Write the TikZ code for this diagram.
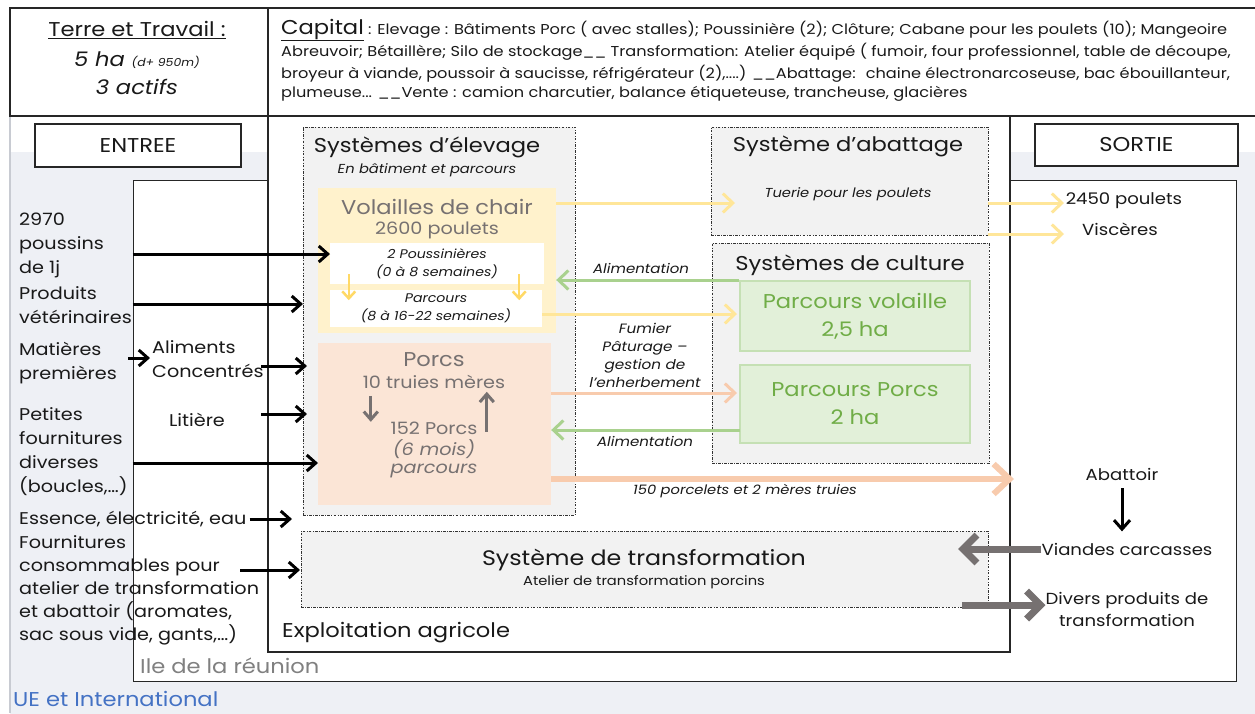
\documentclass[tikz,border=0pt]{standalone}
\usepackage{fontspec}
\setmainfont{Poppins}[FakeStretch=1.13]
\usetikzlibrary{arrows.meta,fit}

\definecolor{uebg}{HTML}{EEF0F5}
\definecolor{uedge}{HTML}{C8CBD2}
\definecolor{sysgrey}{HTML}{F2F2F2}
\definecolor{volfill}{HTML}{FFF2CC}
\definecolor{volarrow}{HTML}{FFE699}
\definecolor{voldark}{HTML}{FFD966}
\definecolor{porcfill}{HTML}{FBE5D6}
\definecolor{porcarrow}{HTML}{F8CBAD}
\definecolor{grnfill}{HTML}{E2F0D9}
\definecolor{grnline}{HTML}{C5E0B4}
\definecolor{grntext}{HTML}{70AD47}
\definecolor{grnarrow}{HTML}{A9D18E}
\definecolor{darkgrey}{HTML}{767171}
\definecolor{uetext}{HTML}{4472C4}

\begin{document}
\begin{tikzpicture}[x=1pt,y=-1pt]
            \tikzset{frame/.style = {draw=black!85, line width=1.3pt, inner sep=0pt}}
            \tikzset{sysbox/.style = {draw=black!80, fill=sysgrey, line width=0.8pt, dash pattern=on 2.5pt off 1.5pt on 0.6pt off 1.5pt, inner sep=0pt}}
            \tikzset{volbox/.style = {fill=volfill, inner sep=0pt}}
            \tikzset{porcbox/.style = {fill=porcfill, inner sep=0pt}}
            \tikzset{whitebox/.style = {fill=white, inner sep=0pt}}
            \tikzset{grnbox/.style = {fill=grnfill, draw=grnline, line width=2pt, inner sep=0pt}}
            \tikzset{txt/.style = {inner sep=0pt, text=black!90}}
            \tikzset{big/.style = {txt, font=\fontsize{20}{24}\selectfont}}
            \tikzset{mid/.style = {txt, font=\fontsize{17}{24}\selectfont}}
            \tikzset{sortietxt/.style = {txt, font=\fontsize{16}{22}\selectfont}}
            \tikzset{lbl/.style = {txt, font=\fontsize{13}{18}\selectfont\itshape}}
            \tikzset{inflow/.style = {draw=black, line width=3pt, -{Straight Barb[length=9pt,width=16pt]}}}
            \tikzset{yflow/.style = {draw=volarrow, line width=3pt, -{Straight Barb[length=10pt,width=19pt]}}}
            \tikzset{gflow/.style = {draw=grnarrow, line width=3pt, -{Straight Barb[length=10pt,width=19pt]}}}
            \tikzset{pflow/.style = {draw=porcarrow, line width=3pt, -{Straight Barb[length=10pt,width=19pt]}}}
            \tikzset{gyflow/.style = {draw=darkgrey, line width=7pt, -{Straight Barb[length=14pt,width=28pt]}}}
            \useasboundingbox (0,0) rectangle (1255,713);
            % zones
            \fill[uebg] (10,152) rectangle (1262,720);
            \draw[uedge, line width=1.5pt] (10,116) -- (10,713);
            \node[frame, fit={(10,8) (268,116)}] (terre) {};
            \node[frame, fit={(268,8) (1262,116)}] (capital) {};
            \node[frame, fill=white, line width=1pt, fit={(133,180) (1236,681)}] (ile) {};
            \node[frame, fill=white, fit={(268,116) (1010,652)}] (ferme) {};
            \node[frame, fill=white, fit={(35,124) (241,167)}] (entree) {};
            \node[frame, fill=white, fit={(1035,124) (1238,166)}] (sortie) {};
            % systemes
            \node[sysbox, fit={(303,127) (575,515)}] (elevage) {};
            \node[volbox, fit={(318,188) (556,333)}] (volailles) {};
            \node[whitebox, fit={(330,243) (544,284)}] (poussin) {};
            \node[whitebox, fit={(330,290) (542,327)}] (parcours) {};
            \node[porcbox, fit={(318,343) (551,505)}] (porcs) {};
            \node[sysbox, fit={(711,127) (988,235)}] (abattage) {};
            \node[sysbox, fit={(712,243) (989,463)}] (culture) {};
            \node[grnbox, fit={(740,281) (970,351)}] (pvol) {};
            \node[grnbox, fit={(740,365) (970,443)}] (pporc) {};
            \node[sysbox, fit={(301,531) (988,607)}] (transfo) {};
            % header texts
            \node[big] at (137,30) {\underline{Terre et Travail :}};
            \node[big, font=\fontsize{20}{24}\selectfont\itshape] at (137,60) {5 ha {\fontsize{11}{13}\selectfont (d+ 950m)}};
            \node[big, font=\fontsize{20}{24}\selectfont\itshape] at (137,87) {3 actifs};
            \node[txt, anchor=base west, font=\fontsize{14.3}{16}\selectfont] at (281,34) {{\fontsize{20}{24}\selectfont\underline{Capital}} : Elevage : Bâtiments Porc ( avec stalles); Poussinière (2); Clôture; Cabane pour les poulets (10); Mangeoire};
            \node[txt, anchor=base west, font=\fontsize{14.3}{16}\selectfont] at (281,56) {Abreuvoir; Bétaillère; Silo de stockage\_\_ Transformation: Atelier équipé ( fumoir, four professionnel, table de découpe,};
            \node[txt, anchor=base west, font=\fontsize{14.3}{16}\selectfont] at (281,78) {broyeur à viande, poussoir à saucisse, réfrigérateur (2),....) \_\_Abattage:~ chaine électronarcoseuse, bac ébouillanteur,};
            \node[txt, anchor=base west, font=\fontsize{14.3}{16}\selectfont] at (281,97) {plumeuse... \_\_Vente : camion charcutier, balance étiqueteuse, trancheuse, glacières};
            \node[big] at (entree) {ENTREE};
            \node[big] at (sortie) {SORTIE};
            % systemes texts
            \node[big] at (427,147) {Systèmes d’élevage};
            \node[lbl] at (427,170) {En bâtiment et parcours};
            \node[big, text=darkgrey] at (437,207) {Volailles de chair};
            \node[mid, text=darkgrey] at (437,230) {2600 poulets};
            \node[lbl, align=center, font=\fontsize{12.5}{18}\selectfont\itshape] at (poussin) {2 Poussinières\\(0 à 8 semaines)};
            \node[lbl, align=center, font=\fontsize{12.5}{18}\selectfont\itshape] at (parcours) {Parcours\\(8 à 16-22 semaines)};
            \node[big, text=darkgrey] at (434,360) {Porcs};
            \node[mid, text=darkgrey] at (434,382) {10 truies mères};
            \node[mid, text=darkgrey] at (434,428) {152 Porcs};
            \node[mid, text=darkgrey, font=\fontsize{17}{24}\selectfont\itshape] at (434,449) {(6 mois)};
            \node[mid, text=darkgrey, font=\fontsize{17}{24}\selectfont\itshape] at (434,471) {parcours};
            \node[big] at (848,146) {Système d'abattage};
            \node[lbl] at (848,194) {Tuerie pour les poulets};
            \node[big] at (850,265) {Systèmes de culture};
            \node[big, text=grntext, align=center, font=\fontsize{20}{28}\selectfont] at (pvol) {Parcours volaille\\2,5 ha};
            \node[big, text=grntext, align=center, font=\fontsize{20}{28}\selectfont] at (pporc) {Parcours Porcs\\2 ha};
            \node[big, font=\fontsize{21}{24}\selectfont] at (644,560) {Système de transformation};
            \node[lbl, font=\fontsize{13}{16}\selectfont] at (644,582) {Atelier de transformation porcins};
            \node[lbl, font=\fontsize{13.3}{16}\selectfont\itshape] at (641,268) {Alimentation};
            \node[lbl, font=\fontsize{13.3}{16}\selectfont\itshape] at (645,441) {Alimentation};
            \node[lbl, align=center, font=\fontsize{13.5}{18}\selectfont\itshape] at (645,355) {Fumier\\Pâturage –\\gestion de\\l’enherbement};
            \node[lbl] at (745,491) {150 porcelets et 2 mères truies};
            \node[big, anchor=west] at (282,633) {Exploitation agricole};
            \node[big, anchor=west, text=black!50] at (140,666) {Ile de la réunion};
            \node[big, anchor=west, text=uetext] at (13,699) {UE et International};
            % entrees
            \node[mid, anchor=north west, align=left] at (19,213) {2970\\poussins\\de 1j};
            \node[mid, anchor=north west, align=left] at (19,286) {Produits\\vétérinaires};
            \node[mid, anchor=north west, align=left] (matieres) at (19,342) {Matières\\premières};
            \node[mid, anchor=north west, align=left] (aliments) at (152,340) {Aliments\\Concentrés};
            \node[mid] (litiere) at (197,420) {Litière};
            \node[mid, anchor=north west, align=left] at (19,407) {Petites\\fournitures\\diverses\\(boucles,…)};
            \node[mid, anchor=west] (essence) at (19,519) {Essence, électricité, eau};
            \node[mid, anchor=north west, align=left, font=\fontsize{17}{23}\selectfont] at (19,535) {Fournitures\\consommables pour\\atelier de transformation\\et abattoir (aromates,\\sac sous vide, gants,…)};
            % sorties
            \node[sortietxt] (poulets) at (1124,201) {2450 poulets};
            \node[sortietxt] (visceres) at (1120,229) {Viscères};
            \node[sortietxt] (abattoir) at (1122,474) {Abattoir};
            \node[sortietxt] (viandes) at (1127,549) {Viandes carcasses};
            \node[sortietxt, align=center] (divers) at (1127,609) {Divers produits de\\transformation};
            % coordinates
            \coordinate (tuerie) at (735,203);
            \coordinate (sortie1) at (1064,203);
            \coordinate (sortie2) at (1064,234);
            \coordinate (pv_in) at (737,314);
            \coordinate (pp_in) at (737,393);
            \coordinate (pp_out) at (740,430);
            \coordinate (vers_abattoir) at (1014,479);
            \coordinate (in_poussin) at (330,254);
            \coordinate (in_veto) at (303,304);
            \coordinate (in_mp) at (150,358);
            \coordinate (in_alim) at (307,366);
            \coordinate (in_litiere) at (307,414);
            \coordinate (in_petites) at (318,463);
            \coordinate (in_essence) at (292,519);
            \coordinate (in_fourn) at (300,570);
            \coordinate (in_viandes) at (958,549);
            \coordinate (out_divers) at (962,605);
            % edges
            \draw[yflow] (volailles.east |- tuerie) to (tuerie);
            \draw[yflow] (abattage.east |- sortie1) to (sortie1);
            \draw[yflow] (abattage.east |- sortie2) to (sortie2);
            \draw[yflow] (parcours.east |- pv_in) to (pv_in);
            \draw[gflow] (pvol.north west) to (volailles.east |- pvol.north west);
            \draw[pflow] (porcs.east |- pp_in) to (pp_in);
            \draw[gflow] (pp_out) to (porcs.east |- pp_out);
            \draw[pflow, line width=6pt, -{Straight Barb[length=16pt,width=30pt]}] (porcs.east |- vers_abattoir) to (vers_abattoir);
            \draw[draw=voldark, line width=2.5pt, -{Straight Barb[length=7pt,width=13pt]}] (poussin.south west) ++(19,-10) to ++(0,26);
            \draw[draw=voldark, line width=2.5pt, -{Straight Barb[length=7pt,width=13pt]}] (poussin.south east) ++(-25,-10) to ++(0,26);
            \draw[draw=darkgrey, line width=3pt, -{Straight Barb[length=8pt,width=14pt]}] (porcs.north west) ++(53,53) to ++(0,26);
            \draw[draw=darkgrey, line width=3pt, -{Straight Barb[length=8pt,width=14pt]}] (porcs.north west) ++(169,89) to ++(0,-40);
            \draw[inflow] (ile.west |- in_poussin) to (in_poussin);
            \draw[inflow] (ile.west |- in_veto) to (in_veto);
            \draw[inflow] (128,358) to (in_mp);
            \draw[inflow] (ferme.west |- in_alim) ++(-6,0) to (in_alim);
            \draw[inflow] (ferme.west |- in_litiere) ++(-6,0) to (in_litiere);
            \draw[inflow] (ile.west |- in_petites) to (in_petites);
            \draw[inflow] (essence.east) ++(3,0) to (in_essence);
            \draw[inflow] (240,570) to (in_fourn);
            \draw[inflow] (abattoir.south) ++(0,8) to ++(0,43);
            \draw[gyflow] (viandes.west) to (in_viandes);
            \draw[gyflow] (out_divers) to (divers.west |- out_divers);
\end{tikzpicture}
\end{document}
